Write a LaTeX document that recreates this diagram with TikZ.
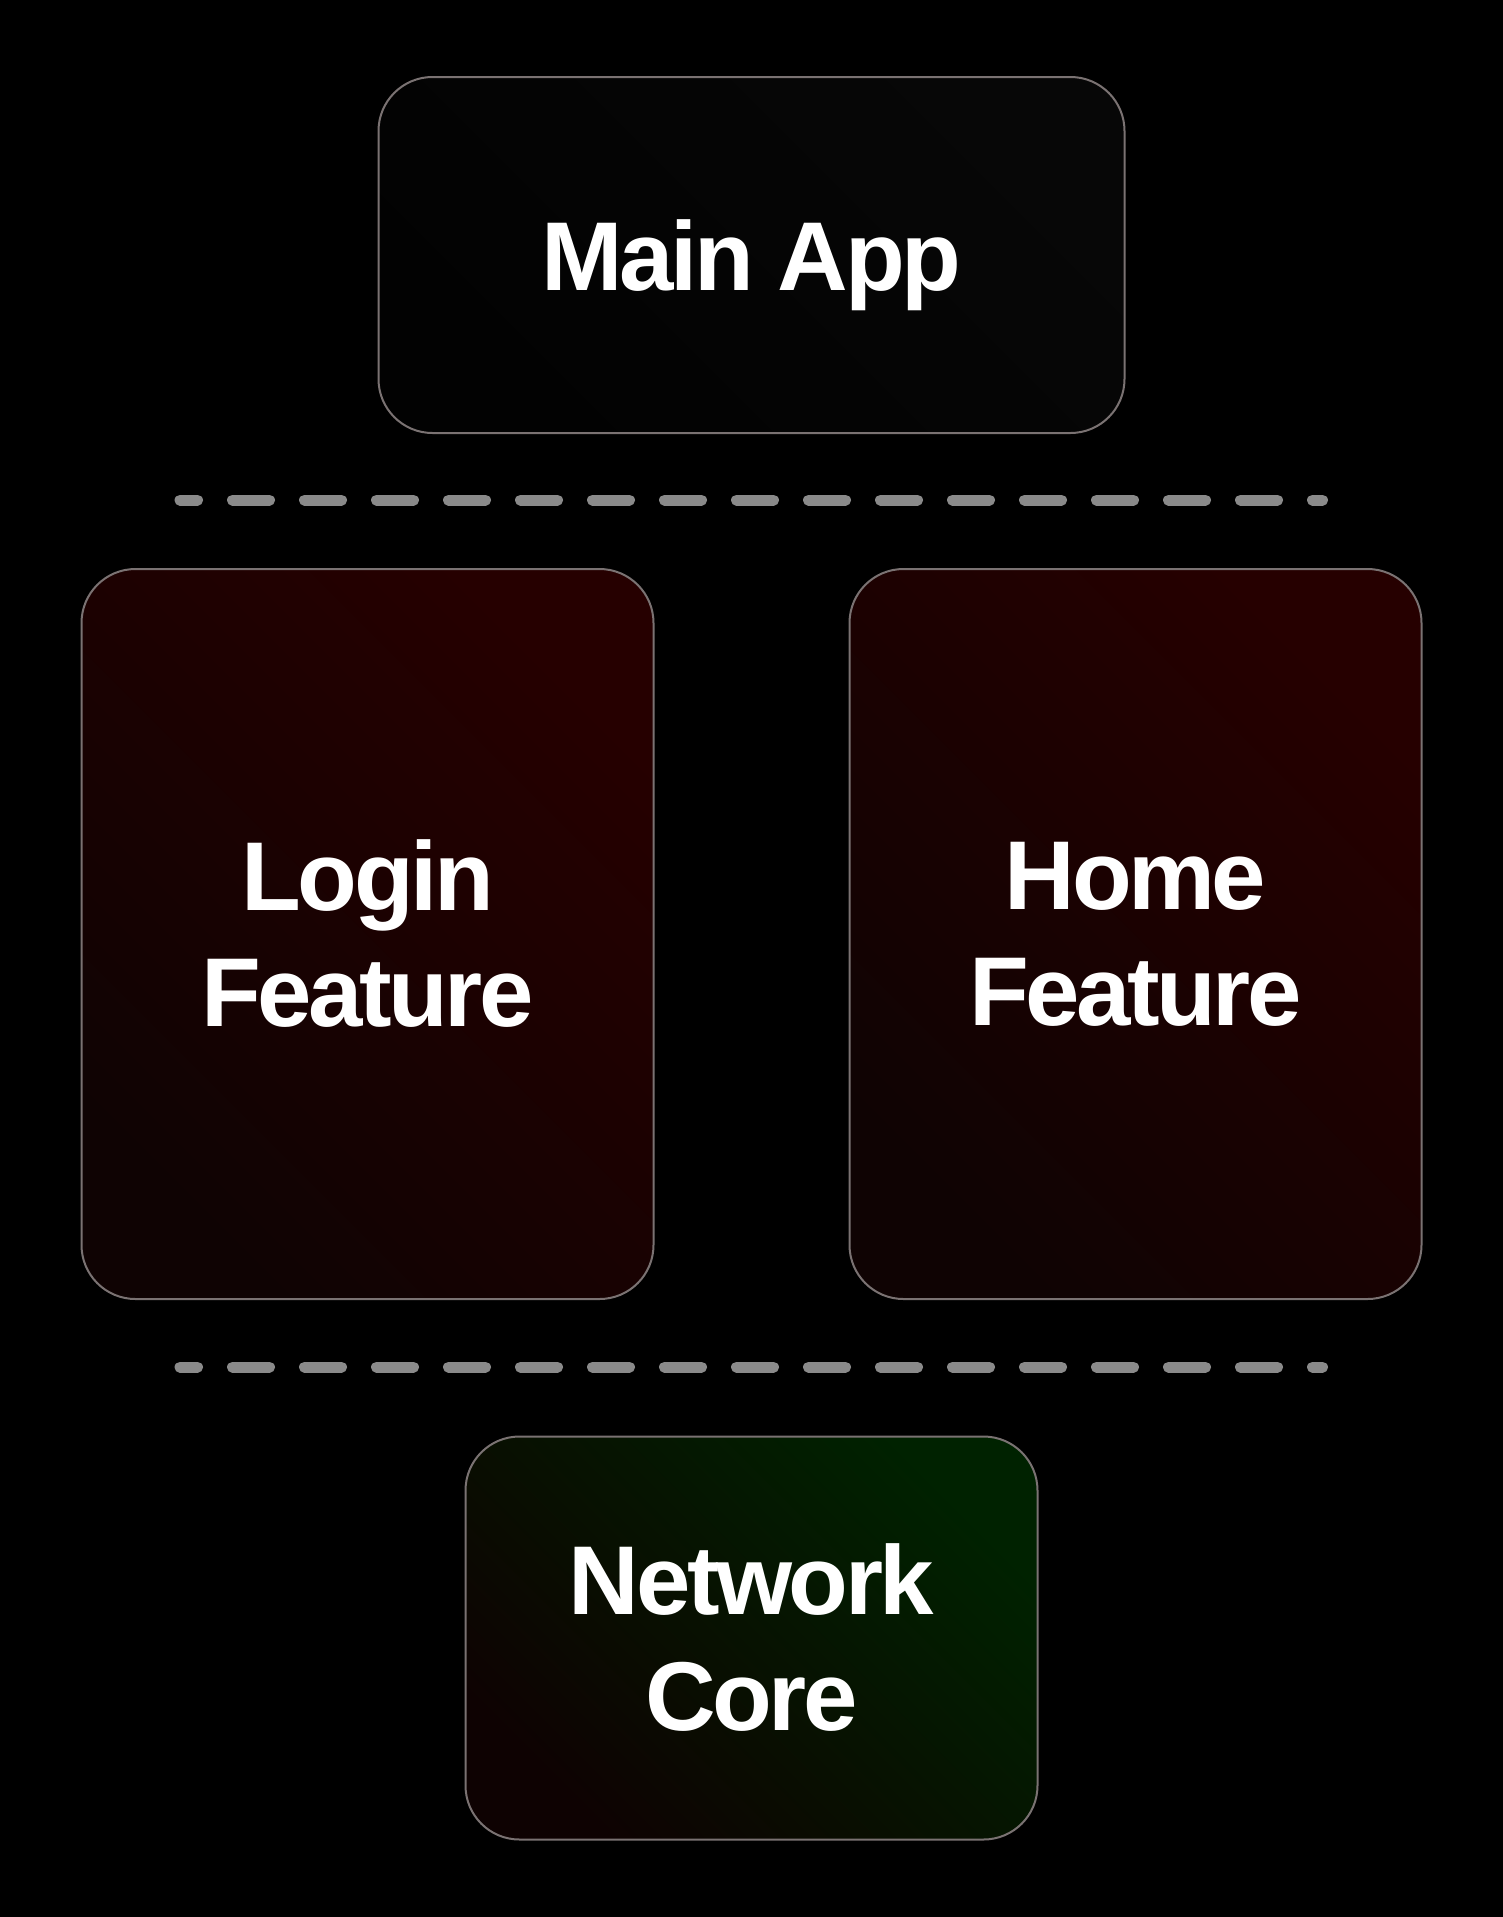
\documentclass[tikz,border=0pt]{standalone}
\usepackage{fontspec}
\newfontfamily\boxfont{Liberation Sans}[LetterSpace=-3.5]
\definecolor{bg}{HTML}{000000}
\definecolor{edge}{HTML}{7A7272}
\definecolor{sepgray}{HTML}{8A8A8A}
\definecolor{mainhi}{HTML}{070707}
\definecolor{mainlo}{HTML}{020202}
\definecolor{redhi}{HTML}{260000}
\definecolor{redlo}{HTML}{0F0303}
\definecolor{greenhi}{HTML}{002200}
\definecolor{greenlo}{HTML}{0E0202}
\tikzset{
  modbox/.style={rounded corners=27pt, draw=edge, line width=1pt, inner sep=0pt,
    align=center, text=white, font=\boxfont\bfseries\fontsize{48.9pt}{58pt}\selectfont},
  appbox/.style={modbox, top color=mainhi, bottom color=mainlo, shading angle=-45,
    minimum width=373pt, minimum height=178pt, text height=35pt, text depth=0pt},
  featbox/.style={modbox, top color=redhi, bottom color=redlo, shading angle=-45,
    minimum width=286pt, minimum height=365pt},
  corebox/.style={modbox, top color=greenhi, bottom color=greenlo, shading angle=-45,
    minimum width=286pt, minimum height=201.5pt},
  layersep/.style={sepgray, line width=5.5pt, line cap=round,
    dash pattern=on 18.5pt off 17.5pt, dash phase=9.75pt}
}
\begin{document}
\begin{tikzpicture}[x=0.5pt, y=-0.5pt]
    \fill[bg] (0,0) rectangle (1503,1917); % fundo
    \useasboundingbox (0,0) rectangle (1503,1917);
    \node[appbox] (app) at (751.5,255) {Main App}; % topo
    \coordinate (sepAl) at (180,500);
    \coordinate (sepAr) at (1322.5,500);
    \draw[layersep] (sepAl) -- (sepAr); % linha 1
    \node[featbox] (login) at (367.5,934) {Login\\Feature};
    \node[featbox] (home) at (1135.5,934) {Home\\Feature};
    \coordinate (sepBl) at (180,1367);
    \coordinate (sepBr) at (1322.5,1367);
    \draw[layersep] (sepBl) -- (sepBr); % linha 2
    \node[corebox] (core) at (751.5,1638) {Network\\Core}; % base
\end{tikzpicture}
\end{document}
